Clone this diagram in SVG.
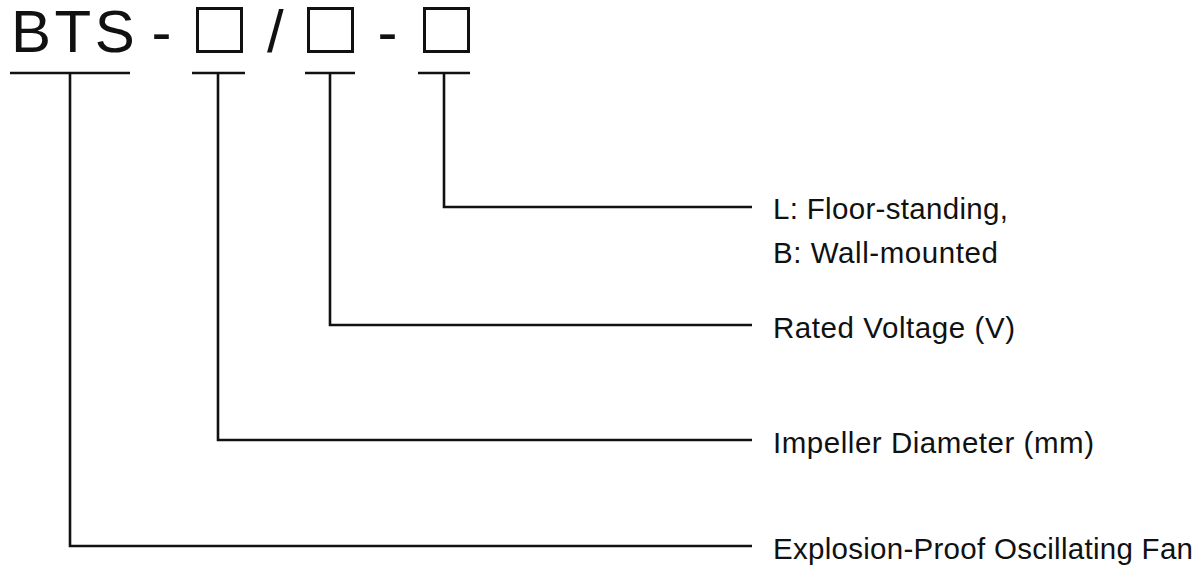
<svg xmlns="http://www.w3.org/2000/svg" width="1200" height="569" viewBox="0 0 1200 569">
<style>
.big{font-family:"Liberation Sans",Arial,sans-serif;font-size:60px;fill:#111}
.lbl{font-family:"Liberation Sans",Arial,sans-serif;font-size:29.5px;fill:#111}
.ln{fill:none;stroke:#111;stroke-width:2.6;stroke-linecap:butt;stroke-linejoin:miter}
.box{fill:none;stroke:#111;stroke-width:3}
</style>
<rect width="1200" height="569" fill="#fff"/>
<g id="model">
<text class="big" x="11" y="52" letter-spacing="3.5">BTS</text>
<text class="big" x="151.5" y="52">-</text>
<rect class="box" x="197.5" y="8.5" width="44" height="43"/>
<text class="big" x="267" y="52">/</text>
<rect class="box" x="308.5" y="8.5" width="44" height="43"/>
<text class="big" x="377.5" y="52">-</text>
<rect class="box" x="424.5" y="8.5" width="44" height="43"/>
</g>
<g id="connectors">
<path class="ln" d="M10 73H130M70 73V546H752"/>
<path class="ln" d="M192 73H245M218 73V440H752"/>
<path class="ln" d="M305 73H355M330 73V325H752"/>
<path class="ln" d="M418 73H470M444 73V207H752"/>
</g>
<g id="label-type">
<text class="lbl" x="773" y="219" textLength="235" lengthAdjust="spacing">L: Floor-standing,</text>
<text class="lbl" x="773" y="262.5" textLength="225" lengthAdjust="spacing">B: Wall-mounted</text>
</g>
<g id="label-voltage">
<text class="lbl" x="773" y="338" textLength="242" lengthAdjust="spacing">Rated Voltage (V)</text>
</g>
<g id="label-diameter">
<text class="lbl" x="773" y="453" textLength="321" lengthAdjust="spacing">Impeller Diameter (mm)</text>
</g>
<g id="label-name">
<text class="lbl" x="773" y="559" textLength="420" lengthAdjust="spacing">Explosion-Proof Oscillating Fan</text>
</g>
</svg>
